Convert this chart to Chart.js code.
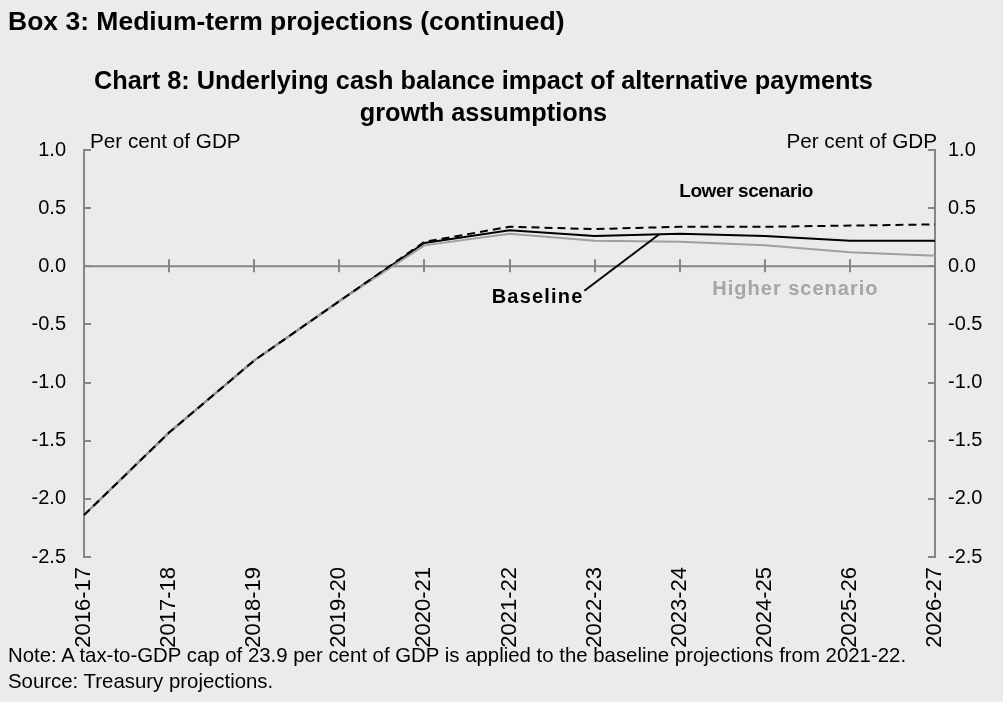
<!DOCTYPE html>
<html>
<head>
<meta charset="utf-8">
<script src="https://cdn.jsdelivr.net/npm/chart.js@4.4.1/dist/chart.umd.min.js"></script>
<style>
  html, body { margin: 0; padding: 0; background: #EBEBEB; }
  body { width: 1003px; height: 702px; position: relative; overflow: hidden;
         font-family: "Liberation Sans", Arial, sans-serif; color: #000; }
  #box { position: absolute; left: 8px; top: 6px; font-weight: bold; font-size: 26.5px; line-height: 30px; white-space: nowrap; }
  #title { position: absolute; left: 0; width: 967px; top: 64px; text-align: center; font-weight: bold; font-size: 25.3px; line-height: 32px; }
  #notes { position: absolute; left: 8px; top: 642px; font-size: 20.4px; line-height: 26px; white-space: nowrap; }
  #wrap { position: absolute; left: 0; top: 0; width: 1003px; height: 702px; }
</style>
</head>
<body>
<div id="wrap"><canvas id="c" width="1003" height="702"></canvas></div>
<div id="box">Box 3: Medium-term projections (continued)</div>
<div id="title">Chart 8: Underlying cash balance impact of alternative payments<br>growth assumptions</div>
<div id="notes">Note: A tax-to-GDP cap of 23.9 per cent of GDP is applied to the baseline projections from 2021-22.<br>Source: Treasury projections.</div>
<script>
// Financial years on the horizontal axis
const categories = ['2016-17', '2017-18', '2018-19', '2019-20', '2020-21', '2021-22',
                    '2022-23', '2023-24', '2024-25', '2025-26', '2026-27'];

// Underlying cash balance, per cent of GDP
const baseline       = [-2.14, -1.43, -0.81, -0.30, 0.20, 0.31, 0.26, 0.28, 0.26, 0.22, 0.22];
const lowerScenario  = [-2.14, -1.43, -0.81, -0.30, 0.21, 0.34, 0.32, 0.34, 0.34, 0.35, 0.36];
const higherScenario = [-2.14, -1.43, -0.81, -0.30, 0.18, 0.28, 0.22, 0.21, 0.18, 0.12, 0.09];

// Value axis ticks (same on both sides)
const yTicks = [-2.5, -2.0, -1.5, -1.0, -0.5, 0.0, 0.5, 1.0];

const FONT = "'Liberation Sans', Arial, sans-serif";
const AXIS_GREY = '#868686';

// Zero line with crossing category ticks, and inward tick marks on both value axes
const framePlugin = {
  id: 'frame',
  beforeDatasetsDraw(chart) {
    const { ctx, chartArea: a, scales } = chart;
    const x = scales.x, y = scales.y;
    const y0 = y.getPixelForValue(0);
    ctx.save();
    ctx.strokeStyle = AXIS_GREY;
    ctx.lineWidth = 2;
    ctx.beginPath();
    ctx.moveTo(a.left, y0);
    ctx.lineTo(a.right, y0);
    for (let i = 1; i < categories.length - 1; i++) {
      const px = Math.round(x.getPixelForValue(i));
      ctx.moveTo(px, y0 - 7);
      ctx.lineTo(px, y0 + 6);
    }
    yTicks.forEach(v => {
      const py = Math.round(y.getPixelForValue(v));
      ctx.moveTo(a.left, py);
      ctx.lineTo(a.left + 7, py);
      ctx.moveTo(a.right, py);
      ctx.lineTo(a.right - 7, py);
    });
    ctx.stroke();
    ctx.restore();
  }
};

// Series labels, leader line and unit labels
const labelPlugin = {
  id: 'labels',
  afterDatasetsDraw(chart) {
    const { ctx, chartArea: a, scales } = chart;
    const x = scales.x, y = scales.y;
    ctx.save();
    ctx.textBaseline = 'middle';

    ctx.font = 'bold 19px ' + FONT;
    ctx.fillStyle = '#000';
    ctx.textAlign = 'center';
    ctx.letterSpacing = '-0.4px';
    ctx.fillText('Lower scenario', x.getPixelForValue(7.78), y.getPixelForValue(0.64));

    ctx.font = 'bold 20px ' + FONT;
    ctx.textAlign = 'right';
    ctx.letterSpacing = '1.2px';
    ctx.fillText('Baseline', x.getPixelForValue(5.87), y.getPixelForValue(-0.27));

    ctx.fillStyle = '#A6A6A6';
    ctx.textAlign = 'center';
    ctx.letterSpacing = '1px';
    ctx.fillText('Higher scenario', x.getPixelForValue(8.36), y.getPixelForValue(-0.20));
    ctx.letterSpacing = '0px';

    // leader from the Baseline label to its line
    const t = 0.76;
    const endVal = baseline[6] + (baseline[7] - baseline[6]) * t;
    ctx.strokeStyle = '#000';
    ctx.lineWidth = 2;
    ctx.beginPath();
    ctx.moveTo(x.getPixelForValue(5.88), y.getPixelForValue(-0.21));
    ctx.lineTo(x.getPixelForValue(6 + t), y.getPixelForValue(endVal));
    ctx.stroke();

    ctx.font = '20.7px ' + FONT;
    ctx.fillStyle = '#000';
    ctx.textBaseline = 'alphabetic';
    ctx.textAlign = 'left';
    ctx.fillText('Per cent of GDP', a.left + 6, a.top - 2);
    ctx.textAlign = 'right';
    ctx.fillText('Per cent of GDP', a.right + 2, a.top - 2);
    ctx.restore();
  }
};

const valueAxis = (position, width, padding) => ({
  position,
  min: -2.5,
  max: 1.0,
  afterBuildTicks(s) { s.ticks = yTicks.map(v => ({ value: v })); },
  afterFit(s) { s.width = width; },
  ticks: {
    callback: v => Number(v).toFixed(1),
    padding,
    color: '#000',
    font: { family: FONT, size: 20 }
  },
  grid: { display: false, drawTicks: false },
  border: { display: true, color: AXIS_GREY, width: 2 }
});

new Chart(document.getElementById('c'), {
  type: 'line',
  data: {
    labels: categories,
    datasets: [
      { label: 'Lower scenario', data: lowerScenario, borderColor: '#000', borderWidth: 2,
        borderDash: [8, 5], pointRadius: 0, order: 1, yAxisID: 'y' },
      { label: 'Higher scenario', data: higherScenario, borderColor: '#A0A0A0', borderWidth: 2,
        pointRadius: 0, order: 2, yAxisID: 'y' },
      { label: 'Baseline', data: baseline, borderColor: '#000', borderWidth: 2,
        pointRadius: 0, order: 3, yAxisID: 'y' }
    ]
  },
  options: {
    responsive: false,
    animation: false,
    events: [],
    layout: { padding: { top: 150, left: 0, right: 0, bottom: 0 } },
    plugins: { legend: { display: false }, title: { display: false }, tooltip: { enabled: false } },
    elements: { line: { tension: 0, fill: false } },
    scales: {
      x: {
        type: 'category',
        offset: false,
        afterFit(s) { s.height = 145; },
        grid: { display: false, drawTicks: false },
        border: { display: false },
        ticks: {
          autoSkip: false, maxRotation: 90, minRotation: 90, padding: 10,
          color: '#000', font: { family: FONT, size: 22 }
        }
      },
      y: valueAxis('left', 84, 18),
      y2: valueAxis('right', 68, 13)
    }
  },
  plugins: [framePlugin, labelPlugin]
});
</script>
</body>
</html>
